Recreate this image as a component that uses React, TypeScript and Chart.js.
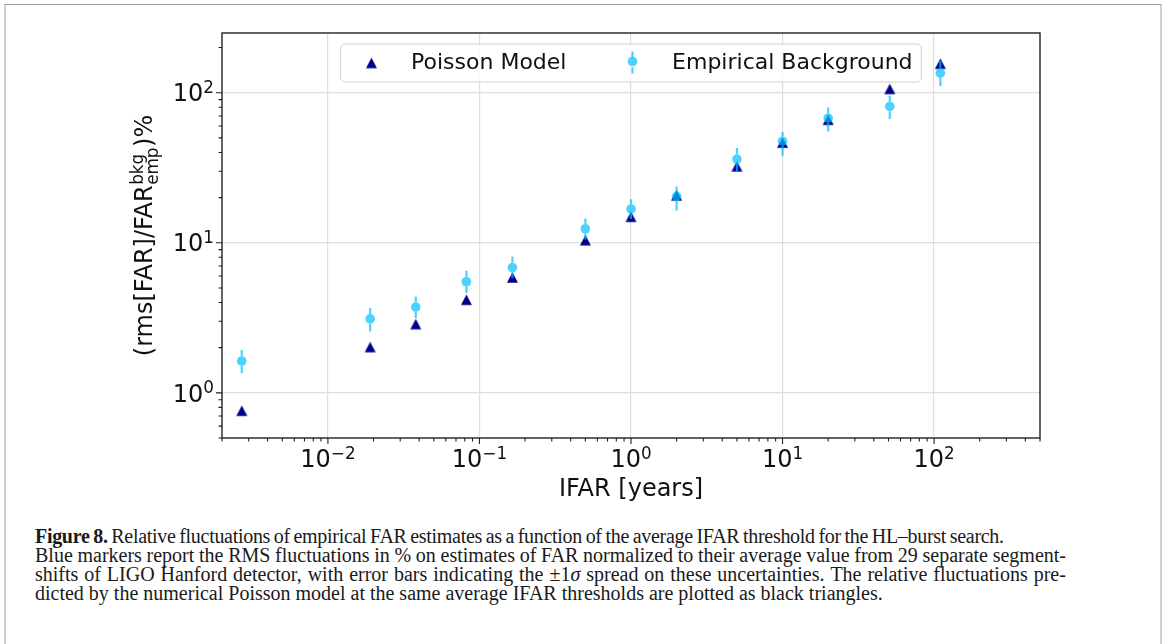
import React, { useEffect, useRef } from "react";
import { Chart, registerables } from "chart.js";

Chart.register(...registerables);

// ---------------- data ----------------
const ifarYears = [0.0027, 0.019, 0.038, 0.082, 0.165, 0.5, 1, 2, 5, 10, 20, 51, 110];
const poissonModel = [0.76, 2.02, 2.87, 4.17, 5.87, 10.4, 14.9, 20.7, 32.3, 46.5, 66, 106, 156];
const empiricalBackground = [1.63, 3.11, 3.73, 5.5, 6.84, 12.4, 16.8, 20.4, 36.1, 47.5, 67.8, 81, 135];
const empiricalLower = [1.35, 2.56, 3.15, 4.62, 5.82, 10.5, 14.4, 16.4, 29.9, 38, 55.2, 66.8, 111];
const empiricalUpper = [1.94, 3.67, 4.38, 6.5, 8.1, 14.5, 19.5, 23.7, 42.8, 54.7, 79.8, 95.5, 163];

const xMajorTicks = [0.01, 0.1, 1, 10, 100];
const xTickExponents = ["\u22122", "\u22121", "0", "1", "2"];
const yMajorTicks = [1, 10, 100];
const yTickExponents = ["0", "1", "2"];
const tickBase = "10";

const seriesLabels = ["Poisson Model", "Empirical Background"];
const xAxisTitle = "IFAR [years]";
const yAxisTitleMain = "(rms[FAR]/FAR";
const yAxisTitleSup = "bkg";
const yAxisTitleSub = "emp";
const yAxisTitleEnd = ")%";
const xLimits = [0.002, 500];
const yLimits = [0.5, 250];

const captionBold = "Figure 8.";
const captionLine1 =
  " Relative fluctuations of empirical FAR estimates as a function of the average IFAR threshold for the HL\u2013burst search.";
const captionLine2 =
  "Blue markers report the RMS fluctuations in % on estimates of FAR normalized to their average value from 29 separate segment-";
const captionLine3a = "shifts of LIGO Hanford detector, with error bars indicating the \u00b11";
const captionLine3b = "\u03c3";
const captionLine3c = " spread on these uncertainties. The relative fluctuations pre-";
const captionLine4 =
  "dicted by the numerical Poisson model at the same average IFAR thresholds are plotted as black triangles.";

// ---------------- styles ----------------
const SANS = '"DejaVu Sans", sans-serif';
const SERIF = '"Liberation Serif", "Times New Roman", serif';
const TICK_FS = 24;
const SUP_FS = 16.8;
const LEGEND_FS = 22;
const NAVY = "#00008b";
const SKY = "rgba(0,191,255,0.7)";
const CIRCLE_R = 4.8;

function mantissaInfo(v: number) {
  const e = Math.floor(Math.log10(v) + 1e-9);
  const m = v / Math.pow(10, e);
  const isInt = Math.abs(m - Math.round(m)) < 1e-6;
  return { isInt, major: isInt && Math.round(m) === 1 };
}

function makeTriangle(w: number, h: number, color: string) {
  const c = document.createElement("canvas");
  const W = Math.ceil(w) + 2;
  const H = Math.ceil(h) + 2;
  c.width = W;
  c.height = H;
  const g = c.getContext("2d")!;
  g.fillStyle = color;
  g.beginPath();
  g.moveTo(W / 2, (H - h) / 2);
  g.lineTo(W / 2 + w / 2, (H + h) / 2);
  g.lineTo(W / 2 - w / 2, (H + h) / 2);
  g.closePath();
  g.fill();
  return c;
}

function drawPow(ctx: CanvasRenderingContext2D, base: string, exp: string, x: number, y: number, align: string, raise: number) {
  ctx.font = `${TICK_FS}px ${SANS}`;
  const wb = ctx.measureText(base).width;
  ctx.font = `${SUP_FS}px ${SANS}`;
  const we = ctx.measureText(exp).width;
  const total = wb + we;
  const x0 = align === "right" ? x - total : x - total / 2;
  ctx.textAlign = "left";
  ctx.textBaseline = "alphabetic";
  ctx.font = `${TICK_FS}px ${SANS}`;
  ctx.fillText(base, x0, y);
  ctx.font = `${SUP_FS}px ${SANS}`;
  ctx.fillText(exp, x0 + wb, y - raise);
}

export default function App() {
  const canvasRef = useRef<HTMLCanvasElement | null>(null);

  useEffect(() => {
    const canvas = canvasRef.current;
    if (!canvas) return;
    const tri = makeTriangle(11, 10.5, NAVY);

    const errorBarPlugin = {
      id: "errorBars",
      beforeDatasetDraw(chart: any, args: any) {
        if (args.index !== 1) return;
        const ctx = chart.ctx as CanvasRenderingContext2D;
        const xs = chart.scales.x;
        const ys = chart.scales.y;
        ctx.save();
        ctx.strokeStyle = SKY;
        ctx.lineWidth = 2.2;
        ctx.lineCap = "butt";
        for (let i = 0; i < ifarYears.length; i++) {
          const px = xs.getPixelForValue(ifarYears[i]);
          const pc = ys.getPixelForValue(empiricalBackground[i]);
          const ph = ys.getPixelForValue(empiricalUpper[i]);
          const pl = ys.getPixelForValue(empiricalLower[i]);
          ctx.beginPath();
          ctx.moveTo(px, ph);
          ctx.lineTo(px, pc - CIRCLE_R);
          ctx.moveTo(px, pc + CIRCLE_R);
          ctx.lineTo(px, pl);
          ctx.stroke();
        }
        ctx.restore();
      },
    };

    const axesPlugin = {
      id: "mplAxes",
      afterDatasetsDraw(chart: any) {
        const ctx = chart.ctx as CanvasRenderingContext2D;
        const { left, right, top, bottom } = chart.chartArea;
        const xs = chart.scales.x;
        const ys = chart.scales.y;
        ctx.save();

        // spines
        ctx.strokeStyle = "#222";
        ctx.lineWidth = 1.4;
        ctx.strokeRect(left, top, right - left, bottom - top);

        // tick marks
        ctx.lineWidth = 1.1;
        ctx.beginPath();
        for (const t of xs.ticks) {
          const info = mantissaInfo(t.value);
          if (!info.isInt) continue;
          const px = xs.getPixelForValue(t.value);
          ctx.moveTo(px, bottom);
          ctx.lineTo(px, bottom + (info.major ? 6 : 3.5));
        }
        for (const t of ys.ticks) {
          const info = mantissaInfo(t.value);
          if (!info.isInt) continue;
          const py = ys.getPixelForValue(t.value);
          ctx.moveTo(left, py);
          ctx.lineTo(left - (info.major ? 6 : 3.5), py);
        }
        ctx.stroke();

        // tick labels
        ctx.fillStyle = "#111";
        xMajorTicks.forEach((v, i) => {
          const px = xs.getPixelForValue(v);
          drawPow(ctx, tickBase, xTickExponents[i], px, bottom + 29, "center", 8);
        });
        yMajorTicks.forEach((v, i) => {
          const py = ys.getPixelForValue(v);
          drawPow(ctx, tickBase, yTickExponents[i], left - 8, py + 8.7, "right", 8.5);
        });

        // x title
        ctx.font = `${TICK_FS}px ${SANS}`;
        ctx.textAlign = "center";
        ctx.fillText(xAxisTitle, (left + right) / 2, bottom + 58);

        // y title (rotated, with stacked super/subscript)
        ctx.font = `${TICK_FS}px ${SANS}`;
        const wMain = ctx.measureText(yAxisTitleMain).width;
        const wEnd = ctx.measureText(yAxisTitleEnd).width;
        ctx.font = `${SUP_FS}px ${SANS}`;
        const wSup = ctx.measureText(yAxisTitleSup).width;
        const wSub = ctx.measureText(yAxisTitleSub).width;
        const wStack = Math.max(wSup, wSub) + 1;
        const total = wMain + wStack + wEnd;
        ctx.translate(left - 70, (top + bottom) / 2);
        ctx.rotate(-Math.PI / 2);
        ctx.textAlign = "left";
        let cx = -total / 2;
        ctx.font = `${TICK_FS}px ${SANS}`;
        ctx.fillText(yAxisTitleMain, cx, 0);
        cx += wMain;
        ctx.font = `${SUP_FS}px ${SANS}`;
        ctx.fillText(yAxisTitleSup, cx + 0.5, -9);
        ctx.fillText(yAxisTitleSub, cx + 0.5, 5.5);
        cx += wStack;
        ctx.font = `${TICK_FS}px ${SANS}`;
        ctx.fillText(yAxisTitleEnd, cx, 0);
        ctx.setTransform(1, 0, 0, 1, 0, 0);

        // legend
        ctx.font = `${LEGEND_FS}px ${SANS}`;
        const w1 = ctx.measureText(seriesLabels[0]).width;
        const w2 = ctx.measureText(seriesLabels[1]).width;
        const pad = 0.4 * LEGEND_FS;
        const handle = 2 * LEGEND_FS;
        const tpad = 0.8 * LEGEND_FS;
        const colsp = 2 * LEGEND_FS;
        const boxW = pad + handle + tpad + w1 + colsp + handle + tpad + w2 + pad;
        const boxH = 38;
        const bx = (left + right) / 2 - boxW / 2;
        const by = top + 11;
        const r = 4.4;
        ctx.beginPath();
        ctx.moveTo(bx + r, by);
        ctx.arcTo(bx + boxW, by, bx + boxW, by + boxH, r);
        ctx.arcTo(bx + boxW, by + boxH, bx, by + boxH, r);
        ctx.arcTo(bx, by + boxH, bx, by, r);
        ctx.arcTo(bx, by, bx + boxW, by, r);
        ctx.closePath();
        ctx.fillStyle = "rgba(255,255,255,0.8)";
        ctx.fill();
        ctx.strokeStyle = "#d0d0d0";
        ctx.lineWidth = 1;
        ctx.stroke();

        const cy = by + 18.5;
        const m1 = bx + pad + handle / 2;
        ctx.drawImage(tri, m1 - tri.width / 2, cy + 0.5 - tri.height / 2);
        ctx.fillStyle = "#111";
        ctx.textAlign = "left";
        ctx.fillText(seriesLabels[0], bx + pad + handle + tpad, by + 25.3);
        const x2 = bx + pad + handle + tpad + w1 + colsp;
        const m2 = x2 + handle / 2;
        ctx.strokeStyle = SKY;
        ctx.lineWidth = 2.2;
        ctx.beginPath();
        ctx.moveTo(m2, cy - 11);
        ctx.lineTo(m2, cy - CIRCLE_R);
        ctx.moveTo(m2, cy + CIRCLE_R);
        ctx.lineTo(m2, cy + 11);
        ctx.stroke();
        ctx.fillStyle = SKY;
        ctx.beginPath();
        ctx.arc(m2, cy - 1, CIRCLE_R, 0, Math.PI * 2);
        ctx.fill();
        ctx.fillStyle = "#111";
        ctx.fillText(seriesLabels[1], x2 + handle + tpad, by + 25.3);

        ctx.restore();
      },
    };

    const gridColor = (c: any) => (c.tick && mantissaInfo(c.tick.value).major ? "#dedede" : "rgba(0,0,0,0)");

    const chart = new Chart(canvas, {
      type: "scatter",
      data: {
        datasets: [
          {
            label: seriesLabels[0],
            data: ifarYears.map((x, i) => ({ x, y: poissonModel[i] })),
            pointStyle: tri as any,
            pointRadius: 6,
            backgroundColor: NAVY,
            borderWidth: 0,
            order: 2,
          },
          {
            label: seriesLabels[1],
            data: ifarYears.map((x, i) => ({ x, y: empiricalBackground[i] })),
            pointStyle: "circle",
            pointRadius: CIRCLE_R,
            backgroundColor: SKY,
            pointBackgroundColor: SKY,
            borderWidth: 0,
            pointBorderWidth: 0,
            order: 1,
          },
        ],
      },
      options: {
        responsive: false,
        animation: false,
        events: [],
        layout: { padding: { left: 222, top: 33, right: 125, bottom: 82 } },
        plugins: { legend: { display: false }, tooltip: { enabled: false } },
        scales: {
          x: {
            type: "logarithmic",
            min: xLimits[0],
            max: xLimits[1],
            ticks: { display: false },
            grid: { color: gridColor, lineWidth: 1.2, drawTicks: false },
            border: { display: false },
          },
          y: {
            type: "logarithmic",
            min: yLimits[0],
            max: yLimits[1],
            ticks: { display: false },
            grid: { color: gridColor, lineWidth: 1.2, drawTicks: false },
            border: { display: false },
          },
        },
      },
      plugins: [errorBarPlugin, axesPlugin],
    } as any);

    return () => chart.destroy();
  }, []);

  const lineStyle: React.CSSProperties = {
    position: "absolute",
    left: 35,
    height: 19,
    lineHeight: "19px",
    fontSize: 20,
    fontFamily: SERIF,
    color: "#1a1a1a",
    whiteSpace: "nowrap",
  };
  const justified = (text: React.ReactNode[], top: number) => (
    <div style={{ ...lineStyle, top, width: 1031, display: "flex", justifyContent: "space-between" }}>{text}</div>
  );
  const words2 = captionLine2.split(" ").map((w, i) => <span key={i}>{w}</span>);
  const words3a = captionLine3a.split(" ");
  const words3c = captionLine3c.trim().split(" ");
  const line3Nodes: React.ReactNode[] = [];
  words3a.slice(0, -1).forEach((w, i) => line3Nodes.push(<span key={"a" + i}>{w}</span>));
  line3Nodes.push(
    <span key="pm">
      {words3a[words3a.length - 1]}
      <i>{captionLine3b}</i>
    </span>
  );
  words3c.forEach((w, i) => line3Nodes.push(<span key={"c" + i}>{w}</span>));

  return (
    <div style={{ position: "absolute", left: 0, top: 0, width: 1165, height: 644, background: "#fff", overflow: "hidden" }}>
      <div
        style={{
          position: "absolute",
          left: 4,
          top: 4,
          width: 1154,
          height: 700,
          borderTop: "1px solid #9a9a9a",
          borderLeft: "2px solid #cfcfcf",
          borderRight: "2px solid #cfcfcf",
        }}
      />
      <canvas ref={canvasRef} width={1165} height={520} style={{ position: "absolute", left: 0, top: 0 }} />
      <div style={{ ...lineStyle, top: 526.5, letterSpacing: "-0.3px", wordSpacing: "-1px" }}>
        <b>{captionBold}</b>
        {captionLine1}
      </div>
      {justified(words2, 545.5)}
      {justified(line3Nodes, 564.5)}
      <div style={{ ...lineStyle, top: 583.5 }}>{captionLine4}</div>
    </div>
  );
}
